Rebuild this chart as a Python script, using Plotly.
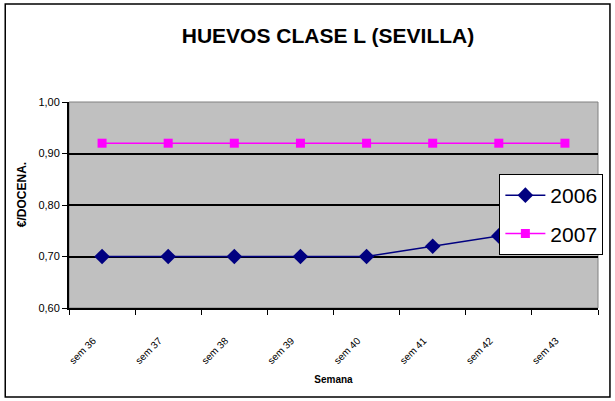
import plotly.graph_objects as go

categories = ["sem 36", "sem 37", "sem 38", "sem 39", "sem 40", "sem 41", "sem 42", "sem 43"]
serie_2006 = [0.70, 0.70, 0.70, 0.70, 0.70, 0.72, 0.74, 0.76]
serie_2007 = [0.92, 0.92, 0.92, 0.92, 0.92, 0.92, 0.92, 0.92]

FONT = "Liberation Sans, Arial, sans-serif"

fig = go.Figure()
fig.add_trace(go.Scatter(
    x=categories, y=serie_2006, name="2006", mode="lines+markers", legendgroup="a",
    line=dict(color="#000080", width=1.5),
    marker=dict(symbol="diamond", size=12, color="#000080"),
))
fig.add_trace(go.Scatter(
    x=categories, y=serie_2007, name="2007", mode="lines+markers", legendgroup="b",
    line=dict(color="#FF00FF", width=1.5),
    marker=dict(symbol="square", size=9, color="#FF00FF"),
))

L, R, T, B = 69, 15, 102, 93
W, H = 615, 401
pw, ph = W - L - R, H - T - B

def px_x(x):
    return (x - L) / pw

def px_y(y):
    return (H - B - y) / ph

fig.update_layout(
    width=W, height=H,
    margin=dict(l=L, r=R, t=T, b=B),
    paper_bgcolor="white",
    plot_bgcolor="#C0C0C0",
    separators=",.",
    font=dict(family=FONT, color="black"),
    title=dict(text="<b>HUEVOS CLASE L (SEVILLA)</b>", x=328 / W, xanchor="center",
               y=1 - 36 / H, yanchor="middle", font=dict(size=21, family=FONT)),
    showlegend=True,
    legend=dict(x=px_x(501), y=px_y(174), xanchor="left", yanchor="top",
                bgcolor="white", bordercolor="black", borderwidth=1,
                font=dict(size=21, family=FONT), itemwidth=40,
                tracegroupgap=8),
    shapes=[
        dict(type="rect", xref="paper", yref="paper", x0=0, x1=1, y0=0, y1=1,
             line=dict(color="#808080", width=1), layer="below"),
        dict(type="rect", xref="paper", yref="paper",
             x0=px_x(5), x1=px_x(612), y0=px_y(397), y1=px_y(4),
             line=dict(color="black", width=1.5)),
    ],
    annotations=[
        dict(text="<b>€/DOCENA.</b>", xref="paper", yref="paper",
             x=px_x(22), y=px_y(195), textangle=-90, showarrow=False,
             xanchor="center", yanchor="middle", font=dict(size=12, family=FONT)),
    ],
)

fig.update_xaxes(
    type="category", range=[-0.5, 7.5],
    tickson="boundaries", ticks="outside", ticklen=5, tickcolor="black",
    showline=True, linecolor="black", linewidth=2,
    showgrid=False, tickangle=-45,
    ticklabelstandoff=21, ticklabelshift=-9,
    tickfont=dict(size=10, family=FONT),
    title=dict(text="<b>Semana</b>", font=dict(size=10, family=FONT), standoff=11),
)
fig.update_yaxes(
    range=[0.6, 1.0], dtick=0.1, tickformat=".2f",
    ticks="outside", ticklen=5, tickcolor="black",
    showline=True, linecolor="black", linewidth=2,
    showgrid=True, gridcolor="black", gridwidth=1.5,
    zeroline=False,
    tickfont=dict(size=11, family=FONT),
)

fig.write_html(
    "out.html",
    config={"displayModeBar": False},
    post_script="document.body.style.margin='0px';document.documentElement.style.overflow='hidden';document.body.style.overflow='hidden';",
)
